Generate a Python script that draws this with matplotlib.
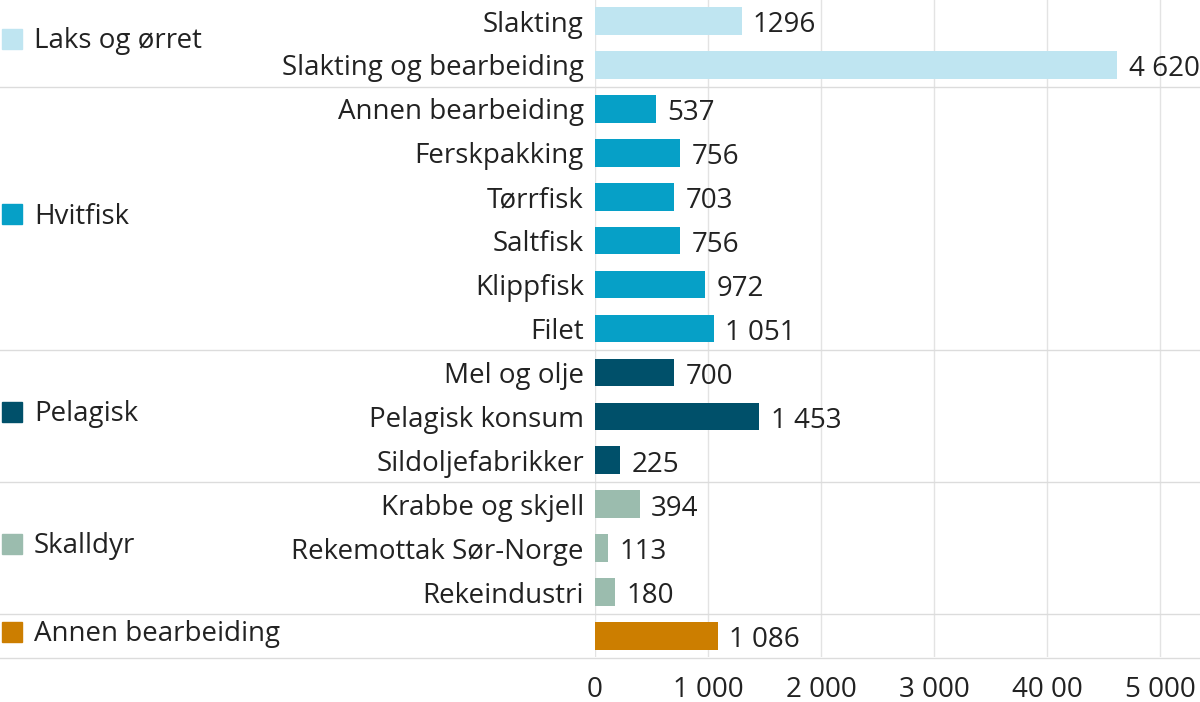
import matplotlib.pyplot as plt
from matplotlib.lines import Line2D
from matplotlib.transforms import blended_transform_factory

plt.rcParams.update({'font.family': 'Open Sans', 'font.size': 20})

categories = ["Slakting", "Slakting og bearbeiding", "Annen bearbeiding", "Ferskpakking",
              "Tørrfisk", "Saltfisk", "Klippfisk", "Filet", "Mel og olje", "Pelagisk konsum",
              "Sildoljefabrikker", "Krabbe og skjell", "Rekemottak Sør-Norge", "Rekeindustri", ""]
values = [1296, 4620, 537, 756, 703, 756, 972, 1051, 700, 1453, 225, 394, 113, 180, 1086]
value_labels = ["1296", "4 620", "537", "756", "703", "756", "972", "1 051", "700", "1 453",
                "225", "394", "113", "180", "1 086"]
groups = ["Laks og ørret", "Hvitfisk", "Pelagisk", "Skalldyr", "Annen bearbeiding"]
group_sizes = [2, 6, 3, 3, 1]
group_colors = ["#bfe5f1", "#06a0c7", "#00506a", "#9bbcae", "#cc7e00"]
tick_vals = [0, 1000, 2000, 3000, 4000, 5000]
tick_labels = ["0", "1 000", "2 000", "3 000", "40 00", "5 000"]

fig = plt.figure(figsize=(12, 7.02), dpi=100)
ax = fig.add_axes([595 / 1200, 1 - 657 / 702, 605 / 1200, 657 / 702])

colors = []
for g, n in enumerate(group_sizes):
    colors += [group_colors[g]] * n
ys = list(range(len(values)))
ax.barh(ys, values, height=0.63, color=colors, zorder=3)
for y, v, lab in zip(ys, values, value_labels):
    ax.text(v + 100, y + 0.1, lab, va='center', ha='left', color='#222222', zorder=4)
ax.set_yticks(ys)
ax.set_yticklabels(categories, color='#222222')
ax.tick_params(axis='y', length=0, pad=8)
ax.tick_params(axis='x', length=0, pad=14, colors='#222222')
ax.set_xticks(tick_vals)
ax.set_xticklabels(tick_labels)
ax.set_xlim(0, 5350)
ax.set_ylim(14.48, -0.48)
ax.grid(axis='x', color='#e3e3e3', linewidth=1, zorder=0)
for s in ax.spines.values():
    s.set_visible(False)

tr = blended_transform_factory(fig.transFigure, ax.transData)
start = 0
for g, n in enumerate(group_sizes):
    mid = start + (n - 1) / 2 - 0.1
    ax.plot([12 / 1200], [mid], marker='s', markersize=14, color=group_colors[g],
            transform=tr, clip_on=False)
    ax.text(34 / 1200, mid + 0.05, groups[g], transform=tr, va='center', ha='left',
            color='#222222', fontsize=20)
    start += n
    ax.add_line(Line2D([0, 1], [start - 0.5, start - 0.5], transform=tr,
                       color='#dcdcdc', linewidth=1, clip_on=False))

fig.savefig("out.png", dpi=100)
